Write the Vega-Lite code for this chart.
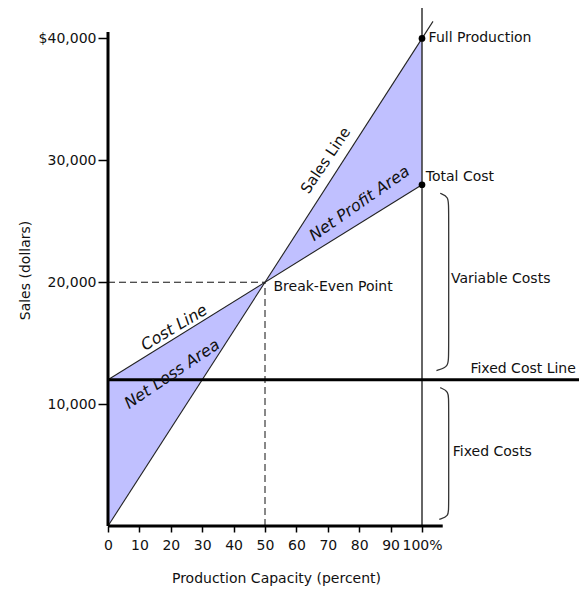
{
  "$schema": "https://vega.github.io/schema/vega-lite/v6.json",
  "width": 471,
  "height": 518,
  "autosize": {"type": "none"},
  "padding": {"left": 108, "top": 8, "right": 0, "bottom": 63},
  "background": "white",
  "config": {
    "view": {"stroke": null},
    "font": "DejaVu Sans",
    "text": {"font": "DejaVu Sans", "fontSize": 14, "color": "#111"}
  },
  "datasets": {
    "band": [
      {"x": 0, "y": 0, "y2": 12000},
      {"x": 50, "y": 20000, "y2": 20000},
      {"x": 100, "y": 40000, "y2": 28000}
    ],
    "dashed": [
      {"x": 0, "y": 20000, "x2": 50, "y2": 20000},
      {"x": 50, "y": 0, "x2": 50, "y2": 20000}
    ],
    "thinLines": [
      {"x": 0, "y": 0, "x2": 103.5, "y2": 41400},
      {"x": 0, "y": 12000, "x2": 100, "y2": 28000}
    ],
    "fullLine": [
      {"x": 100, "y": 0, "x2": 100, "y2": 42500}
    ],
    "thickLines": [
      {"x": 0, "y": 12000, "x2": 150, "y2": 12000},
      {"x": 0, "y": 0, "x2": 106.6, "y2": 0},
      {"x": 0, "y": 0, "x2": 0, "y2": 40530}
    ],
    "dots": [
      {"x": 100, "y": 40000},
      {"x": 100, "y": 28000}
    ],
    "brackets": [
      {"g": "variable", "o": 0, "x": 105.8, "y": 27300},
      {"g": "variable", "o": 1, "x": 108.5, "y": 27050},
      {"g": "variable", "o": 2, "x": 108.5, "y": 26000},
      {"g": "variable", "o": 3, "x": 108.5, "y": 14000},
      {"g": "variable", "o": 4, "x": 108.5, "y": 13050},
      {"g": "variable", "o": 5, "x": 104.6, "y": 12750},
      {"g": "fixed", "o": 0, "x": 105.8, "y": 11350},
      {"g": "fixed", "o": 1, "x": 108.5, "y": 11050},
      {"g": "fixed", "o": 2, "x": 108.5, "y": 10200},
      {"g": "fixed", "o": 3, "x": 108.5, "y": 1500},
      {"g": "fixed", "o": 4, "x": 108.5, "y": 800},
      {"g": "fixed", "o": 5, "x": 105.5, "y": 550}
    ],
    "leftLabels": [
      {"x": 102.1, "y": 40000, "t": "Full Production"},
      {"x": 101.2, "y": 28630, "t": "Total Cost"},
      {"x": 52.7, "y": 19610, "t": "Break-Even Point"},
      {"x": 109.2, "y": 20266, "t": "Variable Costs"},
      {"x": 109.8, "y": 6070, "t": "Fixed Costs"}
    ],
    "rightLabels": [
      {"x": 149, "y": 12880, "t": "Fixed Cost Line"}
    ],
    "salesLabel": [{"x": 69.3, "y": 30000, "t": "Sales Line"}],
    "costLabel": [{"x": 21.1, "y": 16270, "t": "Cost Line"}],
    "lossLabel": [{"x": 20.4, "y": 12470, "t": "Net Loss Area"}],
    "profitLabel": [{"x": 80.1, "y": 26460, "t": "Net Profit Area"}]
  },
  "encoding": {
    "x": {
      "field": "x",
      "type": "quantitative",
      "scale": {"domain": [0, 150], "nice": false, "zero": false},
      "axis": {
        "values": [0, 10, 20, 30, 40, 50, 60, 70, 80, 90, 100],
        "labelExpr": "datum.value == 100 ? '100%' : format(datum.value, 'd')",
        "domain": false,
        "grid": false,
        "tickSize": 6,
        "tickWidth": 1.5,
        "tickColor": "#000",
        "labelFontSize": 14,
        "labelFont": "DejaVu Sans",
        "labelColor": "#111",
        "labelPadding": 6,
        "labelFlush": false,
        "labelOverlap": false,
        "title": "Production Capacity (percent)",
        "titleFont": "DejaVu Sans",
        "titleFontSize": 14,
        "titleFontWeight": "normal",
        "titleColor": "#111",
        "titleX": 168,
        "titleY": 52,
        "titleBaseline": "middle",
        "titleAlign": "center"
      }
    },
    "y": {
      "field": "y",
      "type": "quantitative",
      "scale": {"domain": [0, 42500], "nice": false, "zero": false},
      "axis": {
        "values": [10000, 20000, 30000, 40000],
        "labelExpr": "datum.value == 40000 ? '$40,000' : format(datum.value, ',')",
        "domain": false,
        "grid": false,
        "tickSize": 10,
        "tickWidth": 1.5,
        "tickColor": "#000",
        "labelFontSize": 14,
        "labelFont": "DejaVu Sans",
        "labelColor": "#111",
        "labelPadding": 2,
        "labelOverlap": false,
        "title": "Sales (dollars)",
        "titleFont": "DejaVu Sans",
        "titleFontSize": 14,
        "titleFontWeight": "normal",
        "titleColor": "#111",
        "titleX": -83,
        "titleY": 262,
        "titleAngle": 270,
        "titleBaseline": "middle",
        "titleAlign": "center"
      }
    }
  },
  "layer": [
    {
      "data": {"name": "band"},
      "mark": {"type": "area", "color": "#c0c0ff", "opacity": 1},
      "encoding": {"y2": {"field": "y2"}}
    },
    {
      "data": {"name": "dashed"},
      "mark": {"type": "rule", "color": "#111", "strokeWidth": 1, "strokeDash": [7, 4]},
      "encoding": {"x2": {"field": "x2"}, "y2": {"field": "y2"}}
    },
    {
      "data": {"name": "thinLines"},
      "mark": {"type": "rule", "color": "#222", "strokeWidth": 1.1},
      "encoding": {"x2": {"field": "x2"}, "y2": {"field": "y2"}}
    },
    {
      "data": {"name": "fullLine"},
      "mark": {"type": "rule", "color": "#333", "strokeWidth": 1.5},
      "encoding": {"x2": {"field": "x2"}, "y2": {"field": "y2"}}
    },
    {
      "data": {"name": "thickLines"},
      "mark": {"type": "rule", "color": "#000", "strokeWidth": 3},
      "encoding": {"x2": {"field": "x2"}, "y2": {"field": "y2"}}
    },
    {
      "data": {"name": "brackets"},
      "mark": {"type": "line", "color": "#333", "strokeWidth": 1.3, "interpolate": "basis"},
      "encoding": {
        "order": {"field": "o", "type": "quantitative"},
        "detail": {"field": "g", "type": "nominal"}
      }
    },
    {
      "data": {"name": "dots"},
      "mark": {"type": "circle", "color": "#000", "size": 45, "opacity": 1}
    },
    {
      "data": {"name": "leftLabels"},
      "mark": {"type": "text", "align": "left", "baseline": "middle", "fontSize": 14},
      "encoding": {"text": {"field": "t"}}
    },
    {
      "data": {"name": "rightLabels"},
      "mark": {"type": "text", "align": "right", "baseline": "middle", "fontSize": 14},
      "encoding": {"text": {"field": "t"}}
    },
    {
      "data": {"name": "salesLabel"},
      "mark": {"type": "text", "align": "center", "baseline": "middle", "fontSize": 15, "angle": -56},
      "encoding": {"text": {"field": "t"}}
    },
    {
      "data": {"name": "costLabel"},
      "mark": {"type": "text", "align": "center", "baseline": "middle", "fontSize": 16, "fontStyle": "italic", "angle": -31},
      "encoding": {"text": {"field": "t"}}
    },
    {
      "data": {"name": "lossLabel"},
      "mark": {"type": "text", "align": "center", "baseline": "middle", "fontSize": 16, "fontStyle": "italic", "angle": -34},
      "encoding": {"text": {"field": "t"}}
    },
    {
      "data": {"name": "profitLabel"},
      "mark": {"type": "text", "align": "center", "baseline": "middle", "fontSize": 16, "fontStyle": "italic", "angle": -35},
      "encoding": {"text": {"field": "t"}}
    }
  ]
}
